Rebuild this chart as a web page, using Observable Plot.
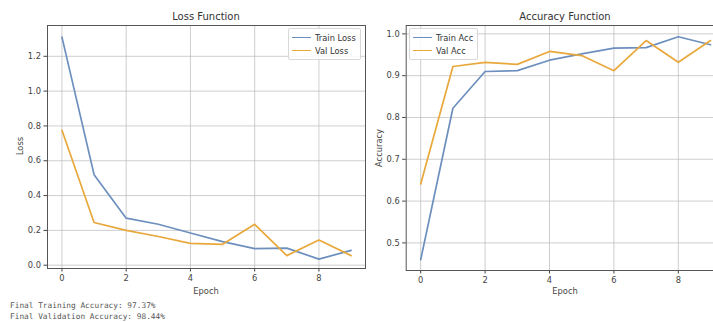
<!DOCTYPE html>
<html>
<head>
<meta charset="utf-8">
<script src="https://cdn.jsdelivr.net/npm/d3@7"></script>
<script src="https://cdn.jsdelivr.net/npm/@observablehq/plot@0.6"></script>
<style>
  html, body { margin: 0; padding: 0; background: #fff; }
  #wrap { position: relative; width: 713px; height: 322px; overflow: hidden; background: #fff; font-family: "DejaVu Sans", sans-serif; color: #333; }
  .panel { position: absolute; top: 0; }
  .abs { position: absolute; white-space: nowrap; }
  .title { font-size: 10px; color: #333; transform: translate(-50%, -50%); }
  .xlab { font-size: 8.3px; color: #444; transform: translate(-50%, -50%); }
  .ylab { font-size: 8.3px; color: #444; transform: translate(-50%, -50%) rotate(-90deg); }
  .legend { border: 1px solid #d8d8d8; border-radius: 2px; background: rgba(255,255,255,0.85); font-size: 8.3px; color: #333; padding: 2px 4px 2px 3px; }
  .legend .row { display: flex; align-items: center; height: 13px; }
  .legend .sw { width: 19px; height: 0; border-top: 1.7px solid; margin-right: 4px; }
  .mono { font-family: "DejaVu Sans Mono", monospace; font-size: 7.8px; color: #555; }
</style>
</head>
<body>
<div id="wrap"></div>
<script>
// ---- data ----
const epochs = [0, 1, 2, 3, 4, 5, 6, 7, 8, 9];
const trainLoss = [1.31, 0.52, 0.27, 0.235, 0.185, 0.135, 0.095, 0.098, 0.035, 0.085];
const valLoss   = [0.775, 0.245, 0.20, 0.165, 0.125, 0.12, 0.235, 0.055, 0.145, 0.055];
const trainAcc  = [0.46, 0.822, 0.91, 0.912, 0.937, 0.952, 0.966, 0.967, 0.993, 0.974];
const valAcc    = [0.641, 0.922, 0.932, 0.927, 0.958, 0.948, 0.912, 0.984, 0.932, 0.984];
const xTicks = [0, 2, 4, 6, 8];
const lossTicks = [0.0, 0.2, 0.4, 0.6, 0.8, 1.0, 1.2];
const accTicks = [0.5, 0.6, 0.7, 0.8, 0.9, 1.0];
const lossSeries = ["Train Loss", "Val Loss"];
const accSeries = ["Train Acc", "Val Acc"];
const footer = ["Final Training Accuracy: 97.37%", "Final Validation Accuracy: 98.44%"];

const BLUE = "#6d8fbe";
const ORANGE = "#e8a83c";

const wrap = document.getElementById("wrap");

function makeTable(a, b, names) {
  const rows = [];
  epochs.forEach((e, i) => rows.push({epoch: e, value: a[i], series: names[0]}));
  epochs.forEach((e, i) => rows.push({epoch: e, value: b[i], series: names[1]}));
  return rows;
}

function panel({left, width, mLeft, mBottom, yDomain, yTicks, rows, names}) {
  const chart = Plot.plot({
    width, height: 300,
    marginLeft: mLeft, marginRight: 5, marginTop: 25, marginBottom: mBottom,
    style: {fontFamily: "DejaVu Sans, sans-serif", fontSize: "8.3px", color: "#444", background: "transparent"},
    x: {domain: [-0.45, 9.45], ticks: xTicks, label: null},
    y: {domain: yDomain, ticks: yTicks, label: null},
    color: {domain: names, range: [BLUE, ORANGE]},
    marks: [
      Plot.gridX(xTicks, {stroke: "#bbbbbb", strokeOpacity: 0.8, strokeWidth: 0.9}),
      Plot.gridY(yTicks, {stroke: "#bbbbbb", strokeOpacity: 0.8, strokeWidth: 0.9}),
      Plot.axisX(xTicks, {tickSize: 3.5, tickPadding: 3, tickFormat: d => String(d), stroke: "#444", fill: "#444", label: null}),
      Plot.axisY(yTicks, {tickSize: 3.5, tickPadding: 3, tickFormat: d3.format(".1f"), stroke: "#444", fill: "#444", label: null}),
      Plot.line(rows, {x: "epoch", y: "value", stroke: "series", strokeWidth: 1.7, curve: "linear"}),
      Plot.frame({stroke: "#555", strokeWidth: 1})
    ]
  });
  chart.classList.add("panel");
  chart.style.left = left + "px";
  wrap.appendChild(chart);
}

panel({left: 0, width: 370, mLeft: 47, mBottom: 32, yDomain: [-0.019, 1.377], yTicks: lossTicks,
       rows: makeTable(trainLoss, valLoss, lossSeries), names: lossSeries});
panel({left: 358, width: 371.5, mLeft: 47.7, mBottom: 30, yDomain: [0.434, 1.02], yTicks: accTicks,
       rows: makeTable(trainAcc, valAcc, accSeries), names: accSeries});

function addText(cls, txt, x, y) {
  const d = document.createElement("div");
  d.className = "abs " + cls;
  d.textContent = txt;
  d.style.left = x + "px";
  d.style.top = y + "px";
  wrap.appendChild(d);
  return d;
}
addText("title", "Loss Function", 206, 16);
addText("title", "Accuracy Function", 565, 16);
addText("xlab", "Epoch", 206, 291);
addText("xlab", "Epoch", 565, 291);
addText("ylab", "Loss", 20, 146);
addText("ylab", "Accuracy", 379, 148);

function legend(names, x, y) {
  const d = document.createElement("div");
  d.className = "abs legend";
  d.style.left = x + "px";
  d.style.top = y + "px";
  names.forEach((n, i) => {
    const r = document.createElement("div");
    r.className = "row";
    const s = document.createElement("span");
    s.className = "sw";
    s.style.borderTopColor = i === 0 ? BLUE : ORANGE;
    const t = document.createElement("span");
    t.textContent = n;
    r.appendChild(s); r.appendChild(t);
    d.appendChild(r);
  });
  wrap.appendChild(d);
}
legend(lossSeries, 288, 28);
legend(accSeries, 409, 28);

footer.forEach((t, i) => {
  addText("mono", t, 10, 301 + i * 11);
});
</script>
</body>
</html>
